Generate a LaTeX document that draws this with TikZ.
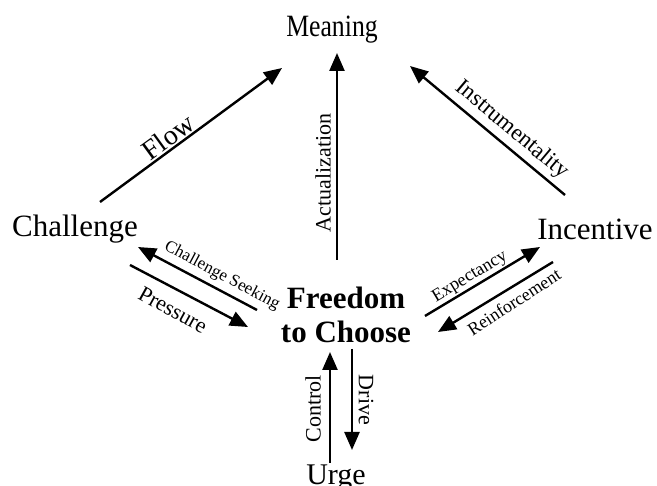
\documentclass[tikz,border=0pt]{standalone}
\usepackage{fontspec}
\setmainfont{Liberation Serif}
\usetikzlibrary{arrows.meta,positioning}

\tikzset{
  arr/.style={line width=2.4pt, -{Triangle[length=18pt,width=15pt]}},
  big/.style={font=\fontsize{31}{34}\selectfont, inner sep=0pt},
  lbl/.style={font=\fontsize{22}{24}\selectfont, inner sep=0pt},
  sml/.style={font=\fontsize{18}{20}\selectfont, inner sep=0pt},
}

\begin{document}
\begin{tikzpicture}[x=1pt, y=-1pt]
  % Canvas
  \fill[white] (0,0) rectangle (657,486);
  \useasboundingbox (0,0) rectangle (657,486);

  % Main nodes
  \node[big, anchor=base] (meaning) at (332,37) {\scalebox{0.83}[1]{Meaning}};
  \node[big, anchor=base] (challenge) at (75,237) {Challenge};
  \node[big, anchor=base] (incentive) at (595,240) {Incentive};
  \node[big, anchor=north, align=center, font=\fontsize{31}{34}\selectfont\bfseries] (freedom) at (346,287) {Freedom\\to Choose};
  \node[big, anchor=base, font=\fontsize{30}{32}\selectfont] (urge) at (336,485) {Urge};

  % Arrow ends
  \coordinate (flowA) at (100,202);
  \coordinate (flowB) at (282,68);
  \coordinate (actA) at (337,260);
  \coordinate (actB) at (337,53);
  \coordinate (insA) at (565,195);
  \coordinate (insB) at (410,66);
  \coordinate (seekA) at (257,310);
  \coordinate (seekB) at (138,247);
  \coordinate (presA) at (130,265);
  \coordinate (presB) at (248,327);
  \coordinate (expA) at (425,316);
  \coordinate (expB) at (540,247);
  \coordinate (reinA) at (553,262);
  \coordinate (reinB) at (438,332);
  \coordinate (ctrlA) at (330,463);
  \coordinate (ctrlB) at (330,352);
  \coordinate (drvA) at (352,349);
  \coordinate (drvB) at (352,450);

  % Upper arrows
  \draw[arr] (flowA) -- (flowB);
  \draw[arr] (actA) -- (actB);
  \draw[arr] (insA) -- (insB);

  % Side pairs
  \draw[arr] (seekA) -- (seekB);
  \draw[arr] (presA) -- (presB);
  \draw[arr] (expA) -- (expB);
  \draw[arr] (reinA) -- (reinB);

  % Lower pair
  \draw[arr] (ctrlA) -- (ctrlB);
  \draw[arr] (drvA) -- (drvB);

  % Arrow labels
  \node[lbl, rotate=36, font=\fontsize{28}{30}\selectfont] (flowlbl) at (168,137) {Flow};
  \node[lbl, rotate=90] (actlbl) at (323,173) {Actualization};
  \node[lbl, rotate=-40, font=\fontsize{23}{25}\selectfont] (inslbl) at (512,130) {Instrumentality};
  \node[sml, rotate=-28, font=\fontsize{17}{19}\selectfont] (seeklbl) at (222,276) {Challenge Seeking};
  \node[lbl, rotate=-29] (preslbl) at (173,310) {Pressure};
  \node[sml, rotate=31] (explbl) at (470,277) {Expectancy};
  \node[sml, rotate=33] (reinlbl) at (514,302) {Reinforcement};
  \node[lbl, rotate=90] (ctrllbl) at (313,409) {Control};
  \node[lbl, rotate=-90] (drvlbl) at (366,400) {Drive};
\end{tikzpicture}
\end{document}
